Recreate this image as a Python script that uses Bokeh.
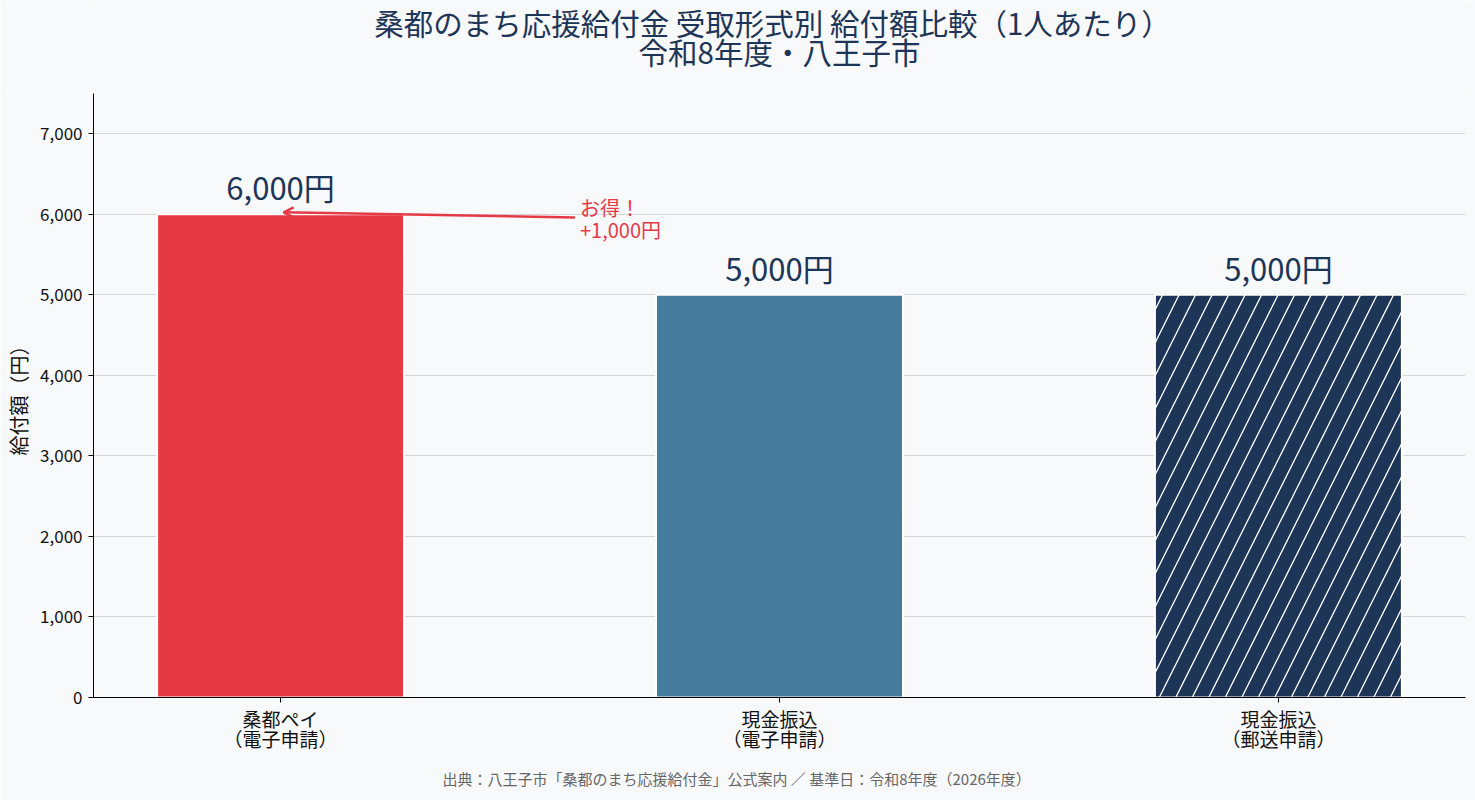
from bokeh.plotting import figure
from bokeh.layouts import column
from bokeh.models import (Range1d, FixedTicker, NumeralTickFormatter, Arrow, Title,
                          OpenHead, Label, ColumnDataSource)
from bokeh.core.properties import value
from bokeh.embed import file_html
from bokeh.resources import INLINE

categories = ["桑都ペイ\n（電子申請）", "現金振込\n（電子申請）", "現金振込\n（郵送申請）"]
amounts = [6000, 5000, 5000]
value_labels = ["6,000円", "5,000円", "5,000円"]
bar_colors = ["#e63946", "#457b9d", "#1d3557"]
hatches = [" ", " ", "/"]
y_ticks = [0, 1000, 2000, 3000, 4000, 5000, 6000, 7000]
bonus_lines = ["お得！", "+1,000円"]
bonus_y = [6085, 5812]
title_lines = ["桑都のまち応援給付金 受取形式別 給付額比較（1人あたり）", "令和8年度・八王子市"]
footer_text = "出典：八王子市「桑都のまち応援給付金」公式案内 ／ 基準日：令和8年度（2026年度）"

SANS = "Noto Sans CJK JP"
BG = "#f8f9fb"
NAVY = "#1d3557"
RED = "#e63946"

W, H = 1475, 800
LEFT, RIGHT, TOP, BOTTOM = 93, 10, 93, 103

# ---- title strip (its frame is aligned with the chart frame by the column layout) ----
t = figure(width=W, height=TOP, output_backend="svg", toolbar_location=None,
           x_range=Range1d(LEFT, W - RIGHT), y_range=Range1d(0, TOP), x_axis_type=None,
           y_axis_type=None, min_border_left=LEFT, min_border_right=RIGHT,
           min_border_top=0, min_border_bottom=0)
t.background_fill_color = BG
t.border_fill_color = BG
t.outline_line_color = None
t.text(x=[772, 779], y=[TOP - 21, TOP - 50], text=title_lines, text_align="center",
       text_baseline="middle", text_font=value(SANS), text_font_size="29.5px",
       text_color=NAVY)

# ---- main chart ----
xs = list(range(len(categories)))
src = ColumnDataSource(dict(x=xs, top=amounts, color=bar_colors, hatch=hatches,
                            label=value_labels))

p = figure(width=W, height=H - TOP, output_backend="svg", toolbar_location=None,
           x_range=Range1d(-0.375, 2.375), y_range=Range1d(0, 7500),
           min_border_left=LEFT, min_border_right=RIGHT, min_border_top=0,
           min_border_bottom=BOTTOM)
p.background_fill_color = BG
p.border_fill_color = BG
p.outline_line_color = None

p.vbar(x="x", top="top", width=0.495, source=src, fill_color="color",
       line_color="white", line_width=2, hatch_pattern="hatch", hatch_color="white",
       hatch_weight=1.3, hatch_scale=33)

p.text(x="x", y="top", text="label", source=src, text_align="center",
       text_baseline="bottom", y_offset=-5, text_font_size="31px",
       text_font=value(SANS), text_color=NAVY)

p.add_layout(Arrow(end=OpenHead(size=10, line_color=RED, line_width=2.5),
                   x_start=0.59, y_start=5960, x_end=0.006, y_end=6025,
                   line_color=RED, line_width=2.5))
for txt, yy in zip(bonus_lines, bonus_y):
    p.add_layout(Label(x=0.6, y=yy, text=txt, text_align="left",
                       text_baseline="middle", text_font_size="20px", text_font=SANS,
                       text_color=RED))

p.xaxis.ticker = FixedTicker(ticks=xs)
p.xaxis.major_label_overrides = {i: c for i, c in enumerate(categories)}
p.xaxis.major_label_text_font = SANS
p.xaxis.major_label_text_font_size = "19px"
p.xaxis.major_label_text_color = "#111111"
p.xaxis.major_label_text_line_height = 0.75
p.xaxis.major_label_standoff = 2
p.xaxis.minor_tick_line_color = None
p.xaxis.major_tick_out = 5
p.xaxis.major_tick_in = 0
p.xaxis.axis_line_color = "black"

p.yaxis.ticker = FixedTicker(ticks=y_ticks)
p.yaxis.formatter = NumeralTickFormatter(format="0,0")
p.yaxis.major_label_text_font = SANS
p.yaxis.major_label_text_font_size = "17px"
p.yaxis.major_label_text_color = "#111111"
p.yaxis.minor_tick_line_color = None
p.yaxis.major_tick_out = 5
p.yaxis.major_tick_in = 0
p.yaxis.major_label_standoff = 6
p.yaxis.axis_line_color = "black"
p.yaxis.axis_label = "給付額（円）"
p.yaxis.axis_label_text_font = SANS
p.yaxis.axis_label_text_font_size = "20px"
p.yaxis.axis_label_text_font_style = "normal"
p.yaxis.axis_label_text_color = "#111111"
p.yaxis.axis_label_standoff = 4

p.xgrid.grid_line_color = None
p.ygrid.grid_line_color = "#d4d6d9"
p.ygrid.grid_line_width = 1

p.add_layout(Title(text=footer_text, align="left", text_font=SANS, text_font_size="15px",
                   text_font_style="normal", text_color="#666666", standoff=22,
                   offset=349), "below")

layout = column(t, p, spacing=0)
open("out.html", "w").write(file_html(layout, INLINE))
